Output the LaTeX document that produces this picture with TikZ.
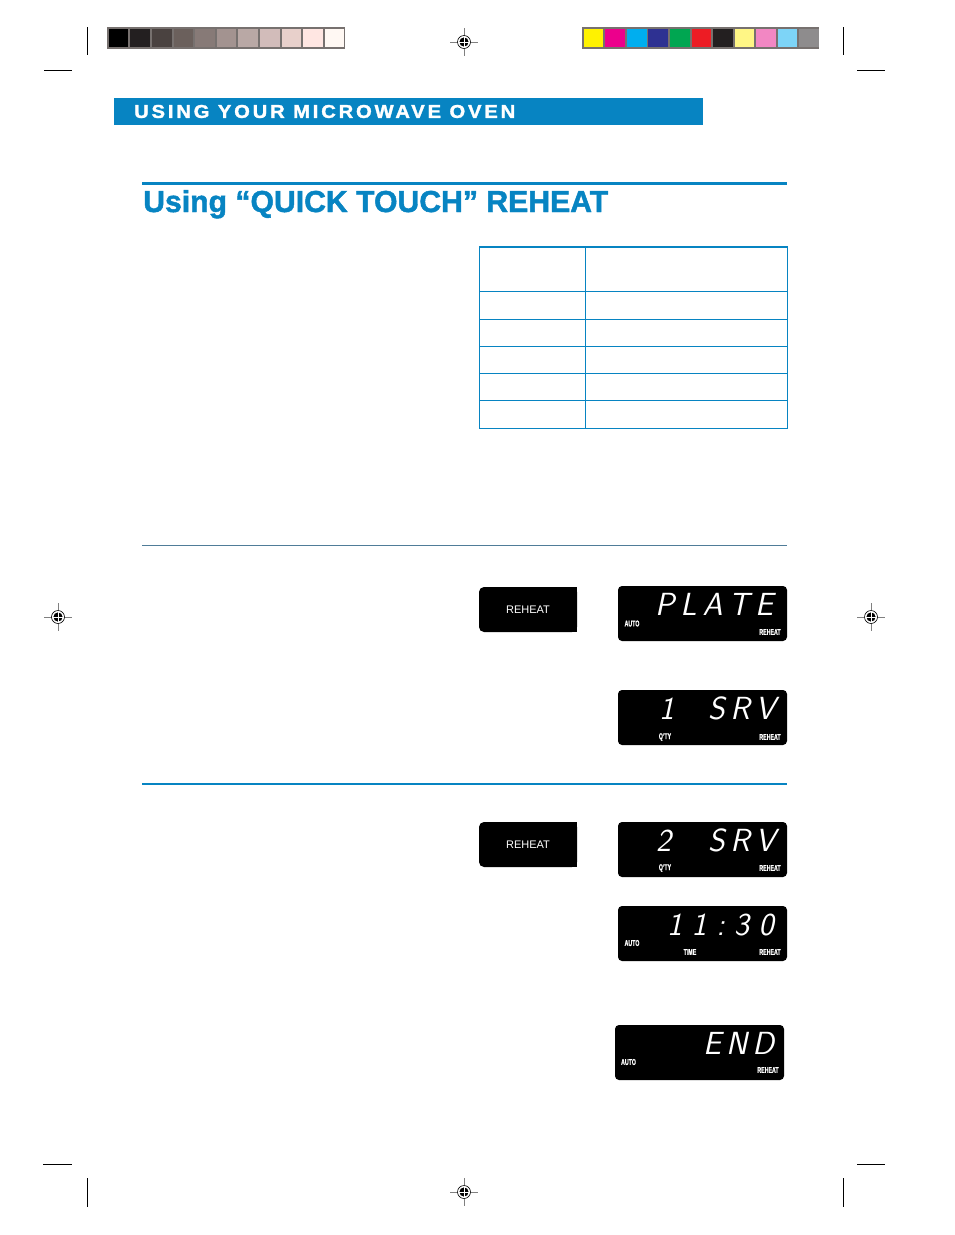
\documentclass[tikz,border=0pt]{standalone}
\usepackage{fontspec}
\setmainfont{Liberation Sans}
\definecolor{hblue}{HTML}{0784C2}
\definecolor{framegray}{HTML}{77716F}
\definecolor{rulegray}{HTML}{4F7C98}
\newcommand\segf{\sffamily\itshape\fontsize{32}{32}\selectfont}
\newcommand\labf{\bfseries\fontsize{8.5}{8.5}\selectfont\addfontfeature{FakeBold=1}}
\newcommand\lab[1]{\scalebox{0.62}[1]{#1}}
\tikzset{
  crop/.style={line width=0.9pt,black},
  disp/.style={fill=black, rounded corners=4pt, minimum width=169pt, minimum height=55pt, inner sep=0pt},
  segtxt/.style={text=white, inner sep=0pt, font=\segf, anchor=base west},
  labtxt/.style={text=white, inner sep=0pt, font=\labf},
  tabline/.style={draw=hblue, line width=0.8pt},
  btn/.style={fill=black, rounded corners=5pt, minimum width=98pt, minimum height=45pt, inner sep=0pt},
  btntxt/.style={text=white, inner sep=0pt, font=\fontsize{11}{11}\selectfont},
  regmark/.pic={
    \draw[gray, line width=0.5pt] (-14,0) -- (14,0) (0,-14) -- (0,14);
    \fill[white] (0,0) circle (6.5pt);
    \draw[black, line width=0.6pt] (0,0) circle (6.5pt);
    \fill[black] (0,0) circle (4.6pt);
    \draw[white, line width=0.8pt] (-4.6,0) -- (4.6,0) (0,-4.6) -- (0,4.6);
  }
}
\begin{document}
\begin{tikzpicture}[x=1pt,y=-1pt]
\useasboundingbox[fill=white] (0,0) rectangle (954,1235);

% crop marks
\draw[crop] (87,27) -- (87,55) (44,70) -- (72,70);
\draw[crop] (843,27) -- (843,55) (857,70) -- (885,70);
\draw[crop] (43,1164) -- (72,1164) (87,1178) -- (87,1207);
\draw[crop] (857,1164) -- (885,1164) (843,1178) -- (843,1207);

% registration marks
\pic at (464,42) {regmark};
\pic at (58,617) {regmark};
\pic at (871,617) {regmark};
\pic at (464,1192) {regmark};

% gray scale bar
\fill[framegray] (107,27) rectangle (345,49);
\foreach \c [count=\i from 0] in {000000,231F20,4A4240,6B605C,877A77,A39390,B9A8A5,D2BCBA,E8D0CB,FFE6E2,FFF8F3}{
  \definecolor{tmpc}{HTML}{\c}
  \fill[tmpc] ({108.8+\i*21.6},28.6) rectangle ({108.8+\i*21.6+19.6},47.4);
}
% colour bar
\fill[framegray] (582,27) rectangle (819,49);
\foreach \c [count=\i from 0] in {FFF200,EC008C,00AEEF,2E3192,00A651,ED1C24,231F20,FFF685,F287C3,7DD4F7,8E8C8D}{
  \definecolor{tmpc}{HTML}{\c}
  \fill[tmpc] ({583.8+\i*21.55},28.6) rectangle ({583.8+\i*21.55+19.6},47.4);
}

% header bar
\fill[hblue] (114,98) rectangle (703,125);
\node[anchor=west, inner sep=0pt, text=white] (hdr) at (134,111.5)
  {\resizebox{381pt}{13pt}{\bfseries\addfontfeature{LetterSpace=14,FakeBold=1.5}USING YOUR MICROWAVE OVEN}};

% title
\draw[hblue, line width=3pt] (142,183.5) -- (787,183.5);
\node[anchor=base west, inner sep=0pt, text=hblue] (title) at (143,212)
  {\resizebox{465pt}{22pt}{\bfseries\addfontfeature{FakeBold=1.5}Using “QUICK TOUCH” REHEAT}};

% table
\draw[tabline] (479,246) rectangle (787,428);
\draw[hblue, line width=2pt] (479,246.5) -- (787,246.5);
\draw[tabline] (585,246) -- (585,428);
\foreach \yy in {291,319,346,373,400}{
  \draw[tabline] (479,\yy) -- (787,\yy);
}

% section rules
\draw[rulegray, line width=0.9pt] (142,545.5) -- (787,545.5);
\draw[hblue, line width=2pt] (142,784) -- (787,784);

% buttons
\node[btn] (b1) at (528,609.5) {};
\fill[black] (b1.north) rectangle (b1.south east);
\node[btntxt] (b1t) at (b1.center) {REHEAT};
\node[btn] (b2) at (528,844.5) {};
\fill[black] (b2.north) rectangle (b2.south east);
\node[btntxt] (b2t) at (b2.center) {REHEAT};

% display 1
\node[disp] (d1) at (702.5,613.5) {};
\node[segtxt] (d1a) at (655,615.5) {P\kern6pt L\kern6pt A\kern6pt T\kern6pt E};
\node[labtxt] (d1b) at (632,623.5) {\lab{AUTO}};
\node[labtxt] (d1c) at (770,632) {\lab{REHEAT}};

% display 2
\node[disp] (d2) at (702.5,717.5) {};
\node[segtxt] (d2a) at (659,719.5) {1};
\node[segtxt] (d2b) at (708,719.5) {S\kern5.5pt R\kern5.5pt V};
\node[labtxt] (d2c) at (665,737) {\lab{Q'TY}};
\node[labtxt] (d2d) at (770,737) {\lab{REHEAT}};

% display 3
\node[disp] (d3) at (702.5,849.5) {};
\node[segtxt] (d3a) at (656,851.5) {2};
\node[segtxt] (d3b) at (708,851.5) {S\kern5.5pt R\kern5.5pt V};
\node[labtxt] (d3c) at (665,868) {\lab{Q'TY}};
\node[labtxt] (d3d) at (770,868) {\lab{REHEAT}};

% display 4
\node[disp] (d4) at (702.5,933.5) {};
\node[segtxt] (d4a) at (667,935.5) {1\kern9.5pt 1\kern9.5pt :\kern9.5pt 3\kern9.5pt 0};
\node[labtxt] (d4b) at (632,943) {\lab{AUTO}};
\node[labtxt] (d4c) at (690,952) {\lab{TIME}};
\node[labtxt] (d4d) at (770,952) {\lab{REHEAT}};

% display 5
\node[disp] (d5) at (699.5,1052.5) {};
\node[segtxt] (d5a) at (703,1054.5) {E\kern5pt N\kern5pt D};
\node[labtxt] (d5b) at (628.5,1062) {\lab{AUTO}};
\node[labtxt] (d5c) at (768,1070) {\lab{REHEAT}};
\end{tikzpicture}
\end{document}
